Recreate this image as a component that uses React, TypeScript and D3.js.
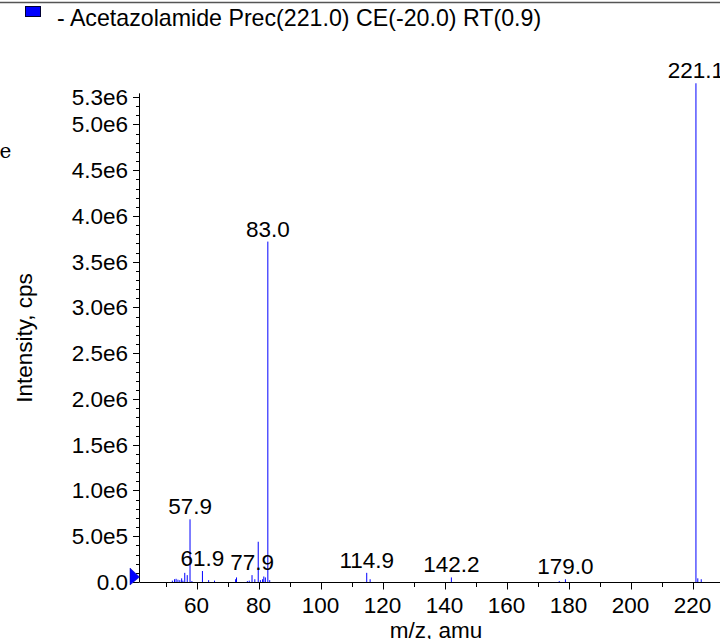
import React from "react";
import * as d3 from "d3";

// Peak list: m/z and intensity (cps)
const peakMz = [
  52.2, 52.9, 53.4, 54.0, 54.6, 55.2, 55.6, 56.2, 57.0, 57.9, 58.5,
  61.9, 63.9, 65.8, 72.6, 72.9, 76.4, 77.0, 77.9, 78.8, 79.9, 80.6, 81.3, 81.7, 82.2, 83.0, 83.6,
  114.9, 116.0, 142.2, 177.0, 179.0, 221.1, 221.7, 222.8,
];
const peakIntensity = [
  0.015e6, 0.03e6, 0.035e6, 0.025e6, 0.02e6, 0.04e6, 0.015e6, 0.1e6, 0.075e6, 0.685e6, 0.01e6,
  0.12e6, 0.02e6, 0.015e6, 0.03e6, 0.05e6, 0.01e6, 0.015e6, 0.075e6, 0.03e6, 0.44e6, 0.02e6, 0.03e6, 0.06e6, 0.05e6, 3.72e6, 0.02e6,
  0.1e6, 0.03e6, 0.05e6, 0.01e6, 0.03e6, 5.45e6, 0.04e6, 0.03e6,
];

const labelTexts = ["57.9", "61.9", "77.9", "83.0", "114.9", "142.2", "179.0", "221.1"];
const labelMz = [57.9, 61.9, 77.9, 83.0, 114.9, 142.2, 179.0, 221.1];
const labelIntensity = [0.685e6, 0.12e6, 0.075e6, 3.72e6, 0.1e6, 0.05e6, 0.03e6, 5.45e6];

const xMajorTicks = [60, 80, 100, 120, 140, 160, 180, 200, 220];
const xMinorTicks = [50, 70, 90, 110, 130, 150, 170, 190, 210, 230];
const yMajorTicks = [0, 0.5e6, 1.0e6, 1.5e6, 2.0e6, 2.5e6, 3.0e6, 3.5e6, 4.0e6, 4.5e6, 5.0e6, 5.3e6];
const yTickLabels = ["0.0", "5.0e5", "1.0e6", "1.5e6", "2.0e6", "2.5e6", "3.0e6", "3.5e6", "4.0e6", "4.5e6", "5.0e6", "5.3e6"];

const legendText = "- Acetazolamide Prec(221.0) CE(-20.0) RT(0.9)";
const xTitle = "m/z, amu";
const yTitle = "Intensity, cps";

const W = 720;
const H = 639;
const FONT = "'Liberation Sans', Arial, Helvetica, sans-serif";
const FS = 22.5;

export default function App() {
  const x = d3.scaleLinear().domain([41.6, 230]).range([139.5, 139.5 + (230 - 41.6) * 3.1]);
  const y = d3.scaleLinear().domain([0, 5.3e6]).range([582, 97]);
  const yTop = y(5.34e6);
  const y0 = y(0);
  const yMinor = d3.range(0, 5.31e6, 1e5).filter((v) => Math.round(v / 1e5) % 5 !== 0);
  const lineGen = d3.line<[number, number]>();

  return (
    <svg
      width={W}
      height={H}
      style={{ position: "absolute", left: 0, top: 0, background: "#fff" }}
      fontFamily={FONT}
    >
      <rect x={0} y={0} width={W} height={H} fill="#fff" />
      {/* top border line */}
      <line x1={0} x2={W} y1={2.5} y2={2.5} stroke="#555" strokeWidth={1.5} />
      {/* legend */}
      <rect x={25.5} y={6.5} width={15} height={10} fill="#0000ff" stroke="#000033" strokeWidth={1} />
      <text x={57} y={26} fontSize={23.2} fill="#000">{legendText}</text>
      {/* stray serif glyph */}
      <text x={-0.5} y={158} fontSize={20} fontFamily="'DejaVu Serif', serif" fill="#000">e</text>

      {/* peaks */}
      <g>
        {peakMz.map((mz, i) => (
          <path
            key={i}
            d={lineGen([[x(mz), y0], [x(mz), y(peakIntensity[i])]]) || ""}
            stroke="#0000ff"
            strokeWidth={1}
            fill="none"
          />
        ))}
      </g>

      {/* axes */}
      <line x1={139.5} x2={139.5} y1={yTop} y2={y0} stroke="#000" strokeWidth={1} />
      <line x1={139.5} x2={W} y1={y0 + 0.5} y2={y0 + 0.5} stroke="#000" strokeWidth={1} />
      {yMinor.map((v) => (
        <line key={"ym" + v} x1={136} x2={139.5} y1={Math.round(y(v)) + 0.5} y2={Math.round(y(v)) + 0.5} stroke="#000" strokeWidth={1} />
      ))}
      {yMajorTicks.map((v, i) => (
        <g key={"yM" + v}>
          <line x1={133} x2={139.5} y1={Math.round(y(v)) + 0.5} y2={Math.round(y(v)) + 0.5} stroke="#000" strokeWidth={1} />
          <text x={128} y={y(v) + 8} fontSize={FS} textAnchor="end" fill="#000">{yTickLabels[i]}</text>
        </g>
      ))}
      {xMinorTicks.map((v) => (
        <line key={"xm" + v} x1={Math.round(x(v)) + 0.5} x2={Math.round(x(v)) + 0.5} y1={y0 + 0.5} y2={y0 + 5} stroke="#000" strokeWidth={1} />
      ))}
      {xMajorTicks.map((v) => (
        <g key={"xM" + v}>
          <line x1={Math.round(x(v)) + 0.5} x2={Math.round(x(v)) + 0.5} y1={y0 + 0.5} y2={y0 + 7.5} stroke="#000" strokeWidth={1} />
          <text x={x(v)} y={y0 + 31} fontSize={FS} textAnchor="middle" fill="#000">{v}</text>
        </g>
      ))}

      {/* zero marker */}
      <path d={d3.line()([[130, y0 - 14], [139.5, y0 - 5], [130, y0 + 3]]) + "Z"} fill="#0000ff" stroke="#0000aa" strokeWidth={0.5} />

      {/* peak labels */}
      {labelTexts.map((t, i) => (
        <text key={"l" + t} x={x(labelMz[i])} y={y(labelIntensity[i]) - 5} fontSize={FS} textAnchor="middle" fill="#000">{t}</text>
      ))}

      {/* titles */}
      <text x={436} y={638} fontSize={FS} textAnchor="middle" fill="#000">{xTitle}</text>
      <text transform={`translate(32, 338) rotate(-90)`} fontSize={FS} textAnchor="middle" fill="#000">{yTitle}</text>
    </svg>
  );
}
